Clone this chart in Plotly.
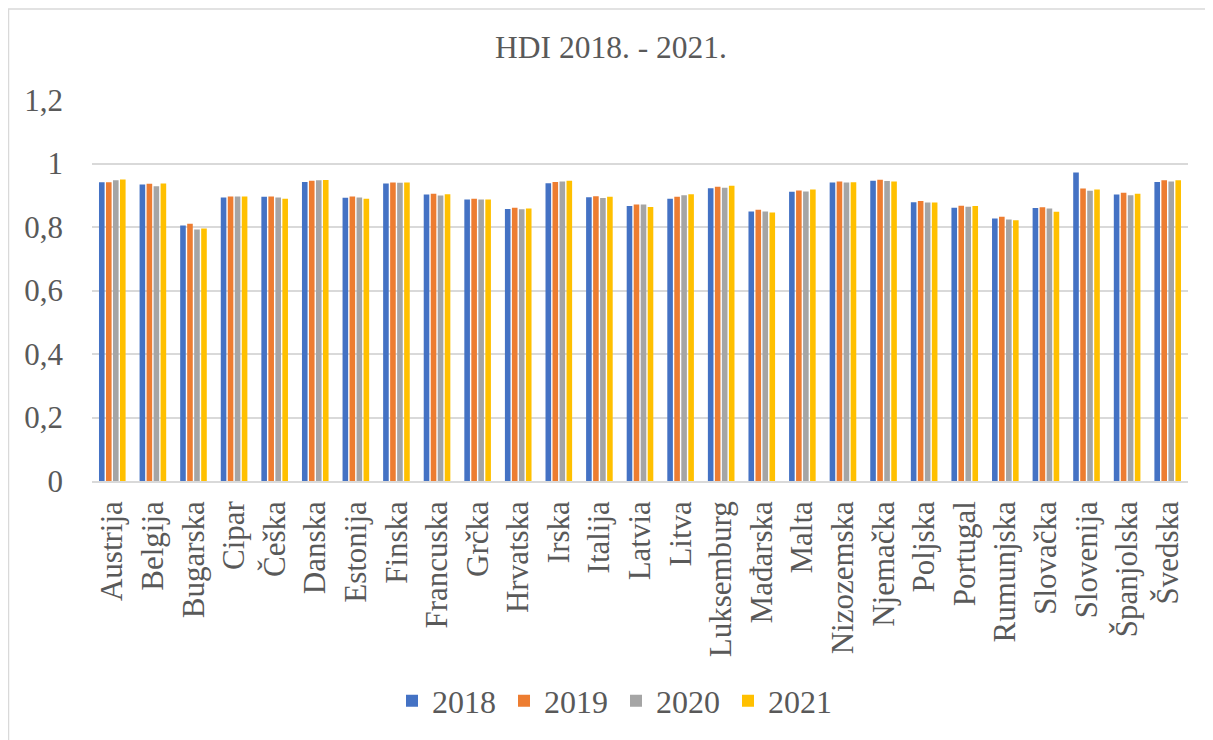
import plotly.graph_objects as go

countries = ["Austrija", "Belgija", "Bugarska", "Cipar", "Češka", "Danska", "Estonija",
             "Finska", "Francuska", "Grčka", "Hrvatska", "Irska", "Italija", "Latvia",
             "Litva", "Luksemburg", "Mađarska", "Malta", "Nizozemska", "Njemačka",
             "Poljska", "Portugal", "Rumunjska", "Slovačka", "Slovenija", "Španjolska", "Švedska"]

hdi_2018 = [0.941, 0.934, 0.805, 0.893, 0.895, 0.942, 0.892, 0.937, 0.902, 0.887, 0.857,
            0.938, 0.894, 0.866, 0.889, 0.922, 0.849, 0.911, 0.940, 0.946, 0.878, 0.861,
            0.827, 0.860, 0.972, 0.902, 0.942]
hdi_2019 = [0.941, 0.936, 0.810, 0.896, 0.896, 0.946, 0.896, 0.940, 0.905, 0.889, 0.861,
            0.942, 0.897, 0.871, 0.895, 0.927, 0.854, 0.915, 0.943, 0.949, 0.882, 0.867,
            0.832, 0.862, 0.921, 0.908, 0.947]
hdi_2020 = [0.947, 0.928, 0.792, 0.896, 0.893, 0.947, 0.893, 0.939, 0.899, 0.887, 0.856,
            0.943, 0.891, 0.871, 0.900, 0.924, 0.849, 0.912, 0.940, 0.945, 0.877, 0.864,
            0.824, 0.858, 0.914, 0.900, 0.943]
hdi_2021 = [0.950, 0.937, 0.795, 0.896, 0.889, 0.948, 0.889, 0.940, 0.903, 0.887, 0.858,
            0.946, 0.895, 0.863, 0.903, 0.930, 0.846, 0.918, 0.941, 0.943, 0.877, 0.866,
            0.821, 0.848, 0.918, 0.905, 0.947]

series = [("2018", hdi_2018, "#4472C4"), ("2019", hdi_2019, "#ED7D31"),
          ("2020", hdi_2020, "#A5A5A5"), ("2021", hdi_2021, "#FFC000")]

FONT = "Liberation Serif, Times New Roman, serif"
TXT = "#595959"

fig = go.Figure()
for name, vals, col in series:
    fig.add_trace(go.Bar(x=countries, y=vals, name=name, marker_color=col,
                         marker_line_width=0))

# page body has an 8px margin: figure sized so that it fills the window
OFF = 8
W, H = 1213 - OFF, 740 - OFF
L, R, T, B = 92 - OFF, 25, 100 - OFF, 257
pw, ph = W - L - R, H - T - B

fig.update_layout(
    width=W, height=H,
    margin=dict(l=L, r=R, t=T, b=B),
    paper_bgcolor="white", plot_bgcolor="white",
    separators=", ",
    barmode="group", bargap=0.31, bargroupgap=0.2,
    font=dict(family=FONT, color=TXT, size=31),
    title=dict(text="HDI 2018. - 2021.", x=(611 - OFF) / W, xanchor="center",
               y=1 - (47 - OFF) / H, yanchor="middle", yref="container",
               font=dict(family=FONT, color=TXT, size=31.5)),
    legend=dict(orientation="h", x=(616 - OFF - L) / pw, xanchor="center",
                y=(T + ph - (704 - OFF)) / ph, yanchor="middle",
                font=dict(family=FONT, color=TXT, size=32),
                entrywidth=67, entrywidthmode="pixels", tracegroupgap=0),
    xaxis=dict(tickangle=-90, showgrid=False, showline=True, linecolor="#D9D9D9",
               linewidth=1.5, ticks="", ticklabelstandoff=6,
               tickfont=dict(family=FONT, color=TXT, size=31)),
    yaxis=dict(range=[0, 1.2], dtick=0.2, showgrid=True, gridcolor="#D9D9D9",
               gridwidth=1.5, zeroline=False, showline=False, ticks="",
               ticklabelstandoff=28,
               tickfont=dict(family=FONT, color=TXT, size=31)),
    shapes=[dict(type="rect", xref="paper", yref="paper",
                 x0=(0.5 - L) / pw, x1=(W + 20 - L) / pw,
                 y0=(T + ph - (H + 20)) / ph, y1=(T + ph - 0.5) / ph,
                 line=dict(color="#D9D9D9", width=1.5), fillcolor="rgba(0,0,0,0)",
                 layer="below")],
)

fig.write_html("out.html")
